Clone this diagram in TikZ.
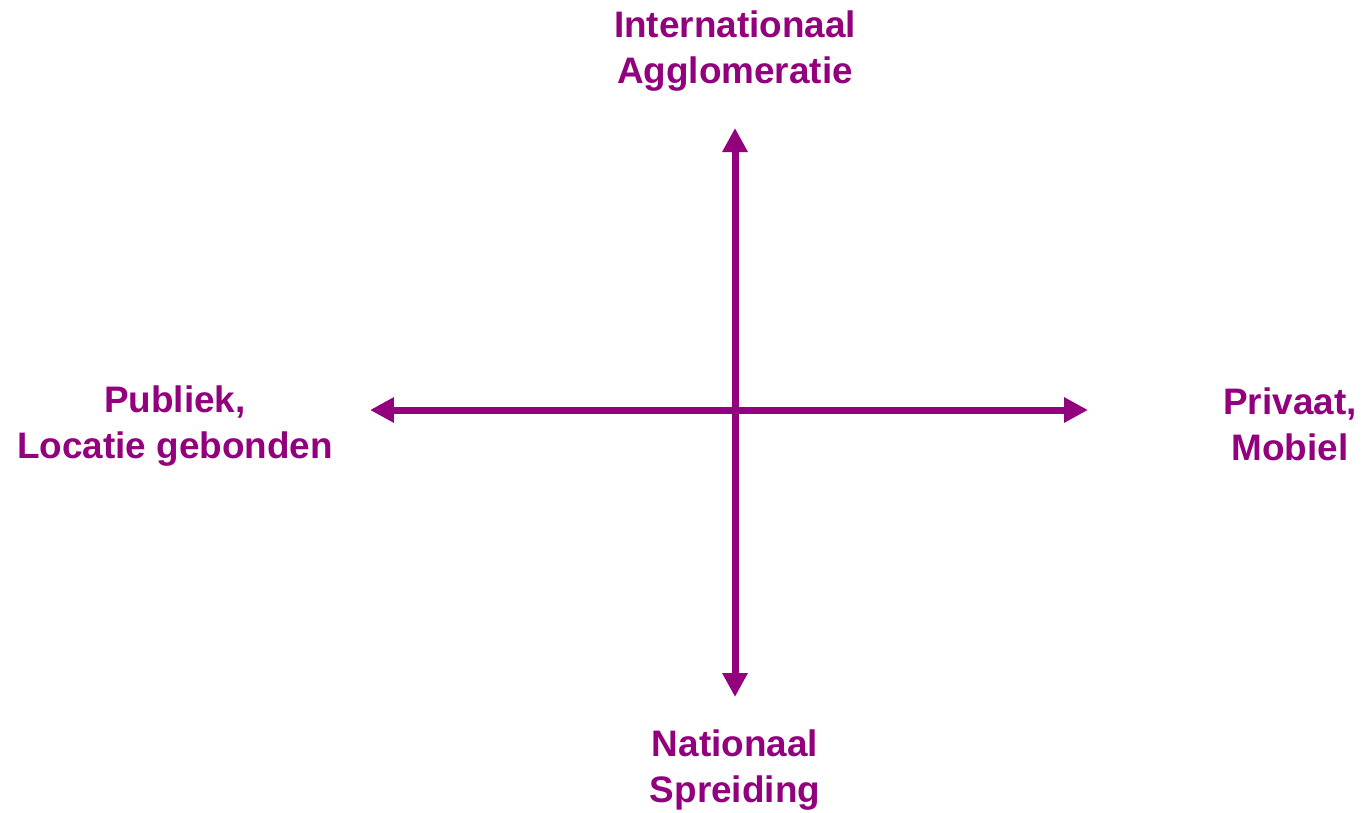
\documentclass[tikz,border=0pt]{standalone}
\usepackage{fontspec}
\setmainfont{Liberation Sans}
\usetikzlibrary{arrows.meta}
\definecolor{paars}{RGB}{146,0,126}
\begin{document}
\begin{tikzpicture}[x=0.02cm,y=-0.02cm]
    \tikzset{as/.style={line width=0.14cm,draw=paars,{Triangle[length=0.48cm,width=0.48cm]}-{Triangle[length=0.48cm,width=0.48cm]}},
        lbl/.style={align=center,text=paars,font=\fontsize{21}{26}\selectfont\bfseries}};
    \useasboundingbox (0,0) rectangle (1363,812);
    \coordinate (west) at (370,410);
    \coordinate (oost) at (1088,410);
    \coordinate (noord) at (735,128);
    \coordinate (zuid) at (735,697);
    \draw[as] (west) -- (oost);
    \draw[as] (noord) -- (zuid);
    \node[lbl] (boven) at (735,51) {Internationaal\\Agglomeratie};
    \node[lbl] (onder) at (735,770) {Nationaal\\Spreiding};
    \node[lbl] (links) at (175,426) {Publiek,\\Locatie gebonden};
    \node[lbl] (rechts) at (1290,424) {Privaat,\\Mobiel};
\end{tikzpicture}
\end{document}
